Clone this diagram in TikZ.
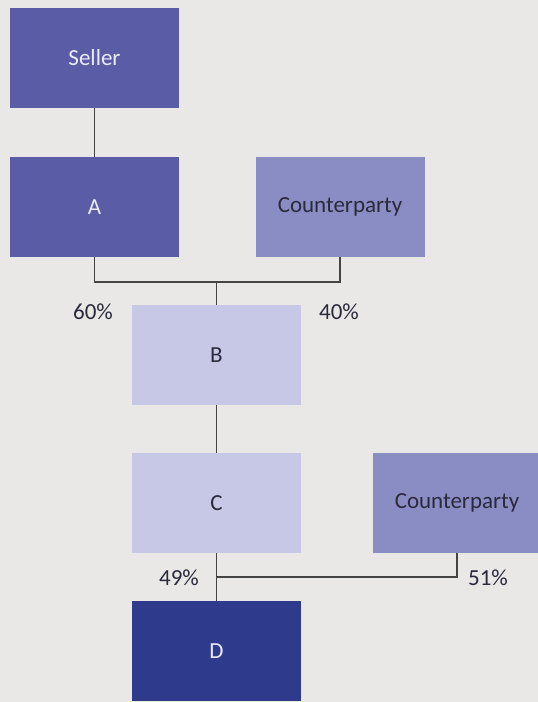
\documentclass[tikz,border=0pt]{standalone}
\usepackage{fontspec}
\setmainfont{Carlito}
\definecolor{bgcol}{HTML}{E9E8E7}
\definecolor{midblue}{HTML}{5A5CA6}
\definecolor{cpblue}{HTML}{8A8CC4}
\definecolor{paleblue}{HTML}{C6C8E6}
\definecolor{navy}{HTML}{2E3A8C}
\definecolor{linecol}{HTML}{444444}
\definecolor{darktext}{HTML}{2A2A3C}
\begin{document}
\begin{tikzpicture}[x=1pt,y=-1pt,
  entity/.style={rectangle, minimum width=169pt, minimum height=100pt, inner sep=0pt,
    font=\fontsize{23}{27}\selectfont},
  darkbox/.style={entity, fill=#1, text=white!92!blue},
  lightbox/.style={entity, fill=#1, text=darktext},
  link/.style={draw=linecol, line width=1.8pt},
  pct/.style={font=\fontsize{23}{27}\selectfont, text=darktext, inner sep=0pt}]
  \clip (0,0) rectangle (538,702);
  \fill[bgcol] (0,0) rectangle (538,702);

  % ownership entities
  \node[darkbox=midblue]  (seller) at (94.5,58)  {Seller};
  \node[darkbox=midblue]  (a)      at (94.5,207) {A};
  \node[lightbox=cpblue]  (cp1)    at (340,207)  {Counterparty};
  \node[lightbox=paleblue] (b)     at (216.5,355) {B};
  \node[lightbox=paleblue] (c)     at (216.5,503) {C};
  \node[lightbox=cpblue]  (cp2)    at (457,503)  {Counterparty};
  \node[darkbox=navy]     (d)      at (216.5,651) {D};

  % junction points
  \coordinate (j1) at (216.5,282);
  \coordinate (j2) at (216.5,577);

  % connectors
  \draw[link] (seller.south) -- (a.north);
  \draw[link] (a.south) |- (j1) -| (cp1.south);
  \draw[link] (j1) -- (b.north);
  \draw[link] (b.south) -- (c.north);
  \draw[link] (c.south) -- (d.north);
  \draw[link] (j2) -| (cp2.south);

  % shareholdings
  \node[pct] (p60) at (93,312)  {60\%};
  \node[pct] (p40) at (339,312) {40\%};
  \node[pct] (p49) at (179,578) {49\%};
  \node[pct] (p51) at (488,578) {51\%};
\end{tikzpicture}
\end{document}
